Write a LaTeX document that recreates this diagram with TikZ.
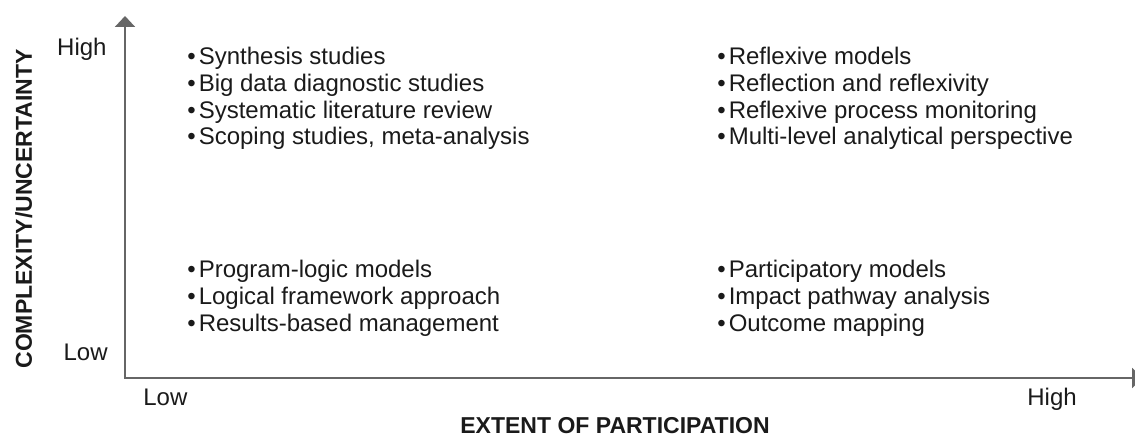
\documentclass[tikz,border=0pt]{standalone}
\usepackage{fontspec}
\setmainfont{Liberation Sans}
\usepackage{tikz}
\usetikzlibrary{arrows.meta}

\definecolor{axisgray}{RGB}{102,102,102}
\definecolor{txtblack}{RGB}{26,26,26}
\newcommand{\itm}[1]{\textbullet\hspace{1.5pt}#1}

\begin{document}
\begin{tikzpicture}[x=0.5pt,y=-0.5pt,
  axisline/.style={draw=axisgray, line width=1pt, {Triangle[width=10pt,length=5.5pt]}-{Triangle[width=10pt,length=5.5pt]}},
  quad/.style={anchor=north west, inner sep=0pt, align=left, text=txtblack, font=\fontsize{12}{13.33}\selectfont},
  tick/.style={inner sep=0pt, text=txtblack, font=\fontsize{12}{13.33}\selectfont},
  title/.style={inner sep=0pt, text=txtblack, font=\fontsize{11.5}{13}\selectfont\bfseries}]
\useasboundingbox (0,0) rectangle (1135,437);
% Axes
\coordinate (O) at (125,378);
\coordinate (ytip) at (125,16);
\coordinate (xtip) at (1143,378);
\draw[axisline] (ytip) -- (O) -- (xtip);
% Axis labels
\node[tick, anchor=base east] (y-high) at (107,56) {High};
\node[tick, anchor=base east] (y-low) at (108,361) {Low};
\node[tick, anchor=base west] (x-low) at (143,406) {Low};
\node[tick, anchor=base west] (x-high) at (1027,406) {High};
\node[title, anchor=base, rotate=90] (y-title) at (32,209) {COMPLEXITY/UNCERTAINTY};
\node[title, anchor=base] (x-title) at (615,434) {EXTENT OF PARTICIPATION};
% Quadrants
\node[quad] (q-tl) at (187,47) {\itm{Synthesis studies}\\ \itm{Big data diagnostic studies}\\ \itm{Systematic literature review}\\ \itm{Scoping studies, meta-analysis}};
\node[quad] (q-tr) at (717,47) {\itm{Reflexive models}\\ \itm{Reflection and reflexivity}\\ \itm{Reflexive process monitoring}\\ \itm{Multi-level analytical perspective}};
\node[quad] (q-bl) at (187,260) {\itm{Program-logic models}\\ \itm{Logical framework approach}\\ \itm{Results-based management}};
\node[quad] (q-br) at (717,260) {\itm{Participatory models}\\ \itm{Impact pathway analysis}\\ \itm{Outcome mapping}};
\end{tikzpicture}
\end{document}
